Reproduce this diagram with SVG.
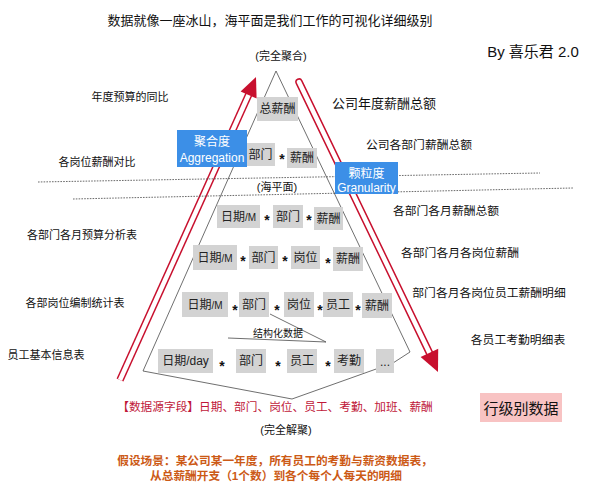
<svg xmlns="http://www.w3.org/2000/svg" width="616" height="487" viewBox="0 0 616 487">
<style>
text{font-family:"Liberation Sans","Noto Sans CJK SC",sans-serif;fill:#111;dominant-baseline:central;text-anchor:middle}
.t11{font-size:11px}
.t12{font-size:11.8px}
.box{fill:#d3d3d3}
.bt{font-size:12px;fill:#222}
.star{font-size:14px;font-weight:bold;dominant-baseline:auto}
.blue{fill:#3c8fe7}
.wt{fill:#fff;font-size:12px}
.gl{fill:none;stroke:#4a4a4a;stroke-width:0.8}
.dot{stroke:#444;stroke-width:0.8;stroke-dasharray:1.6 1.2}
.sh{stroke:#c8102e;stroke-width:7.5;fill:none}
.shw{stroke:#fff;stroke-width:4.5;fill:none}
.red{fill:#c8102e}
.rt{fill:#c0183a;font-size:11.7px}
.ot{fill:#cc5a16;font-size:11.7px;font-weight:bold}
</style>
<rect width="616" height="487" fill="#fff"/>
<g id="connectors">
<polygon class="gl" points="276,71 410,352 393,363 292,399 143,371"/>
<polyline class="gl" points="270,314 326,342 228,338"/>
<line class="sh" x1="120" y1="380" x2="249" y2="94"/>
<line class="shw" x1="120" y1="380" x2="249" y2="94"/>
<polygon class="red" points="256,77 240.6,91.5 256.6,98.5"/>
<line class="sh" x1="299" y1="82" x2="429.5" y2="353" stroke-linecap="round"/>
<line class="shw" x1="299" y1="82" x2="429.5" y2="353" stroke-linecap="round"/>
<polygon class="red" points="438,372 438.2,348.7 420.6,357.1"/>
<line class="dot" x1="38" y1="182" x2="540" y2="173"/>
<line class="dot" x1="73" y1="199" x2="573" y2="188"/>
</g>
<g id="n-total"><rect class="box" x="257" y="97" width="41" height="24"/><text class="bt" x="277.5" y="109">总薪酬</text></g>
<g id="row1">
<rect class="box" x="246" y="143" width="29" height="23"/><text class="bt" x="260.5" y="155">部门</text>
<text class="star" x="282" y="164">*</text>
<rect class="box" x="287" y="148" width="30" height="20"/><text class="bt" x="302" y="158">薪酬</text>
</g>
<g id="row2">
<rect class="box" x="217" y="205" width="43" height="23"/><text class="bt" x="238.5" y="217">日期<tspan font-size="10">/M</tspan></text>
<text class="star" x="267" y="225">*</text>
<rect class="box" x="273" y="205" width="30" height="23"/><text class="bt" x="288" y="217">部门</text>
<text class="star" x="309" y="225">*</text>
<rect class="box" x="314" y="207" width="29" height="23"/><text class="bt" x="328.5" y="219">薪酬</text>
</g>
<g id="row3">
<rect class="box" x="193" y="245" width="44" height="25"/><text class="bt" x="215" y="258">日期<tspan font-size="10">/M</tspan></text>
<text class="star" x="243" y="266">*</text>
<rect class="box" x="249" y="246" width="29" height="23"/><text class="bt" x="263.5" y="258">部门</text>
<text class="star" x="285" y="266">*</text>
<rect class="box" x="291" y="246" width="29" height="23"/><text class="bt" x="305.5" y="258">岗位</text>
<text class="star" x="328" y="268">*</text>
<rect class="box" x="333" y="247" width="30" height="24"/><text class="bt" x="348" y="259">薪酬</text>
</g>
<g id="row4">
<rect class="box" x="182" y="292" width="46" height="25"/><text class="bt" x="205" y="305">日期<tspan font-size="10">/M</tspan></text>
<text class="star" x="235" y="315">*</text>
<rect class="box" x="239" y="292" width="30" height="25"/><text class="bt" x="254" y="305">部门</text>
<text class="star" x="277" y="315">*</text>
<rect class="box" x="284" y="292" width="30" height="25"/><text class="bt" x="299" y="305">岗位</text>
<text class="star" x="320" y="315">*</text>
<rect class="box" x="323" y="292" width="30" height="25"/><text class="bt" x="338" y="305">员工</text>
<text class="star" x="358" y="315">*</text>
<rect class="box" x="362" y="293" width="30" height="25"/><text class="bt" x="377" y="306">薪酬</text>
</g>
<g id="row5">
<rect class="box" x="158" y="349" width="55" height="24"/><text class="bt" x="185.5" y="361">日期/day</text>
<text class="star" x="222" y="371">*</text>
<rect class="box" x="236" y="349" width="30" height="24"/><text class="bt" x="251" y="361">部门</text>
<text class="star" x="278" y="371">*</text>
<rect class="box" x="287" y="349" width="30" height="24"/><text class="bt" x="302" y="361">员工</text>
<text class="star" x="328" y="371">*</text>
<rect class="box" x="334" y="349" width="30" height="24"/><text class="bt" x="349" y="361">考勤</text>
<rect class="box" x="376" y="349" width="18" height="24"/><text class="bt" x="385" y="362">...</text>
</g>
<g id="n-aggregation"><rect class="blue" x="177" y="130" width="70" height="37"/><text class="wt" x="212" y="142">聚合度</text><text class="wt" x="212" y="158">Aggregation</text></g>
<g id="n-granularity"><rect class="blue" x="335" y="162" width="63" height="32"/><text class="wt" x="366.5" y="174">颗粒度</text><text class="wt" x="366.5" y="188">Granularity</text></g>
<g id="labels">
<text x="270" y="20" style="font-size:13px">数据就像一座冰山，海平面是我们工作的可视化详细级别</text>
<text x="533" y="51" style="font-size:15px">By 喜乐君 2.0</text>
<text class="t11" x="281" y="56">(完全聚合)</text>
<text class="t11" x="130" y="97">年度预算的同比</text>
<text x="384" y="103" style="font-size:13px">公司年度薪酬总额</text>
<text class="t12" x="419" y="145">公司各部门薪酬总额</text>
<text class="t11" x="97" y="162">各岗位薪酬对比</text>
<text class="t11" x="277" y="187">(海平面)</text>
<text class="t12" x="446" y="211">各部门各月薪酬总额</text>
<text class="t11" x="82" y="235">各部门各月预算分析表</text>
<text class="t12" x="460" y="253">各部门各月各岗位薪酬</text>
<text class="t12" x="489" y="293">部门各月各岗位员工薪酬明细</text>
<text class="t11" x="75" y="303">各部岗位编制统计表</text>
<text style="font-size:10px" x="278" y="333">结构化数据</text>
<text class="t12" x="518" y="340">各员工考勤明细表</text>
<text class="t11" x="46" y="355">员工基本信息表</text>
<text class="rt" x="275" y="406">【数据源字段】日期、部门、岗位、员工、考勤、加班、薪酬</text>
<rect x="480" y="393" width="82" height="29" fill="#f8c3c3"/>
<text x="521" y="408" style="font-size:15px">行级别数据</text>
<text class="t11" x="286" y="430">(完全解聚)</text>
<text class="ot" x="275" y="460">假设场景：某公司某一年度，所有员工的考勤与薪资数据表，</text>
<text class="ot" x="276" y="475">从总薪酬开支（1个数）到各个每个人每天的明细</text>
</g>
</svg>
